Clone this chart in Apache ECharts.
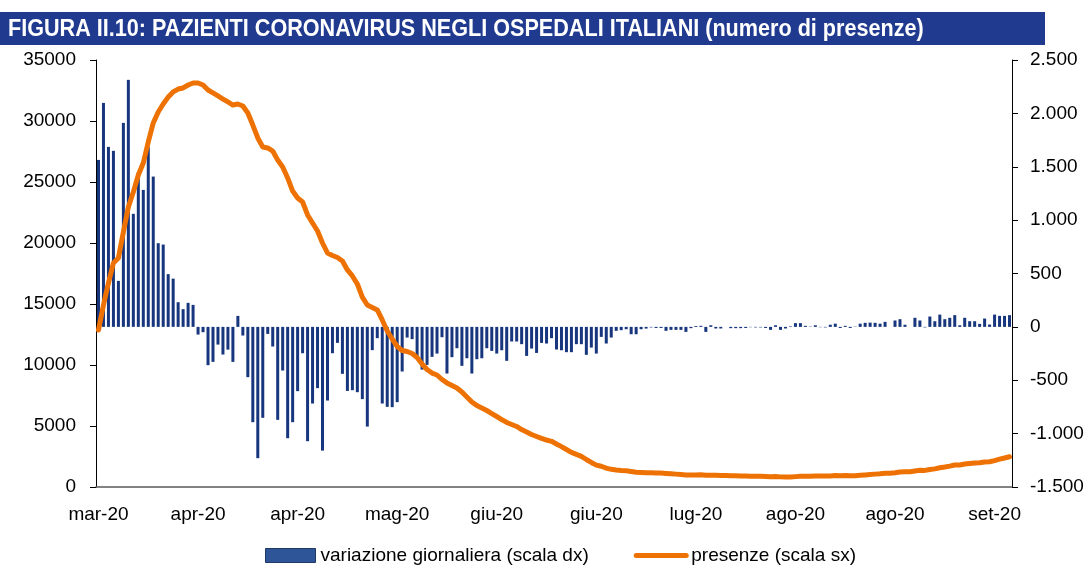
<!DOCTYPE html>
<html><head><meta charset="utf-8">
<script src="https://cdn.jsdelivr.net/npm/echarts@6/dist/echarts.min.js"></script>
<style>html,body{margin:0;padding:0;background:#fff}#c{width:1092px;height:565px}</style>
</head><body><div id="c"></div>
<script>
const titleText = 'FIGURA II.10: PAZIENTI CORONAVIRUS NEGLI OSPEDALI ITALIANI (numero di presenze)';
const startDate = [2020, 2, 17];
const dayCount = 184;
const tickLabels = ['mar-20','apr-20','apr-20','mag-20','giu-20','giu-20','lug-20','ago-20','ago-20','set-20'];
const barName = 'variazione giornaliera (scala dx)';
const lineName = 'presenze (scala sx)';

// daily variation (right axis)
const variazione = [
 1564,2098,1686,1649,431,1911,2314,1059,1452,1283,
 1686,1408,784,771,494,452,231,166,225,206,
 -72,-50,-359,-328,-166,-259,-213,-328,103,-81,
 -471,-893,-1230,-852,-66,-184,-871,-409,-1043,-893,
 -602,-247,-1071,-718,-574,-1159,-690,-247,-150,-440,
 -600,-593,-612,-677,-934,-218,-106,-718,-749,-752,
 -705,-418,-100,-115,-300,-400,-356,-281,-250,-97,
 -437,-284,-200,-365,-294,-437,-303,-294,-200,-225,
 -250,-219,-318,-137,-137,-162,-272,-203,-244,-150,
 -156,-106,-212,-219,-237,-237,-162,-162,-262,-194,
 -250,-94,-156,-100,-37,-31,-22,-69,-69,-22,
 -16,-5,-10,-10,-37,-28,-28,-28,-47,-12,
 8,10,-47,15,-15,-15,0,-12,-12,-12,
 -10,-3,-5,-5,-10,-28,15,-28,-15,5,
 35,35,10,3,15,-3,-5,20,30,-10,
 10,-10,3,30,38,40,38,30,47,0,
 60,72,20,0,85,60,-5,97,53,115,
 72,85,110,15,85,53,53,28,78,22,
 115,103,103,110
];

// hospital presences (left axis)
const presenze = [
 12870,14920,16720,18360,18770,20900,22950,24180,25570,26560,
 28280,29840,30740,31390,31960,32380,32620,32710,32950,33120,
 33120,32950,32540,32300,32050,31800,31560,31310,31390,31230,
 30660,29670,28610,27870,27790,27540,26800,26230,25330,24260,
 23690,23360,22300,21640,20980,20000,19180,18980,18810,18525,
 17790,17300,16640,15570,14920,14710,14510,13690,12790,12130,
 11520,11190,11110,10940,10610,10080,9630,9340,9180,8810,
 8530,8320,8120,7790,7380,6970,6680,6480,6270,6020,
 5780,5530,5290,5120,4960,4710,4510,4300,4140,3980,
 3850,3745,3530,3310,3075,2840,2680,2515,2255,2010,
 1790,1700,1550,1450,1400,1360,1330,1270,1210,1190,
 1170,1160,1150,1140,1110,1080,1055,1030,990,980,
 990,1000,955,970,955,940,940,930,915,905,
 895,890,885,880,870,845,860,830,815,820,
 850,880,890,890,900,900,895,910,935,925,
 935,925,930,955,985,1020,1055,1080,1120,1120,
 1170,1230,1245,1245,1315,1365,1360,1440,1485,1580,
 1640,1710,1800,1810,1880,1920,1965,1990,2050,2070,
 2165,2280,2380,2480
];

const categories = [];
for (let i = 0; i < dayCount; i++) {
  const d = new Date(Date.UTC(startDate[0], startDate[1], startDate[2] + i));
  categories.push(d.toISOString().slice(0, 10));
}

const FONT = 'Liberation Sans';
const every20 = (i) => i % 20 === 0;
const fmtIt = (v) => {
  const s = Math.abs(v).toString().replace(/\B(?=(\d{3})+(?!\d))/g, '.');
  return (v < 0 ? '-' : '') + s;
};

const chart = echarts.init(document.getElementById('c'), null, {renderer: 'canvas'});
chart.setOption({
  animation: false,
  backgroundColor: '#ffffff',
  textStyle: {fontFamily: FONT},
  graphic: [
    {type: 'rect', shape: {x: 0, y: 12, width: 1045, height: 33}, style: {fill: '#203A8F'}, silent: true},
    {type: 'text', x: 8, y: 29, scaleX: 0.9, style: {text: titleText, fill: '#ffffff', fontSize: 24, fontWeight: 'bold',
      fontFamily: FONT, verticalAlign: 'middle'}, silent: true}
  ],
  grid: {left: 96, right: 80, top: 60, bottom: 78},
  legend: {
    left: 260, top: 541, itemWidth: 50, itemHeight: 14, itemGap: 45,
    textStyle: {fontSize: 19, color: '#000', fontFamily: FONT},
    data: [
      {name: barName, icon: 'rect', itemStyle: {color: '#2E5597', borderColor: '#1F3864', borderWidth: 1}},
      {name: lineName, lineStyle: {width: 5, color: '#EE7203'}, itemStyle: {color: 'rgba(0,0,0,0)', borderWidth: 0, opacity: 0}}
    ]
  },
  xAxis: {
    type: 'category', data: categories, boundaryGap: true,
    axisLine: {onZero: false, lineStyle: {color: '#595959', width: 1.5}},
    axisTick: {interval: every20, length: 6, lineStyle: {color: '#595959'}},
    axisLabel: {interval: every20, formatter: (v, i) => tickLabels[Math.round(i / 20)], fontSize: 19, color: '#000', margin: 18, fontFamily: FONT},
    splitLine: {show: false}
  },
  yAxis: [
    {type: 'value', position: 'left', min: 0, max: 35000, interval: 5000,
     axisLine: {show: true, lineStyle: {color: '#000', width: 1}},
     axisTick: {show: true, length: 6, lineStyle: {color: '#000'}},
     axisLabel: {fontSize: 19, color: '#000', margin: 20, formatter: (v) => String(v), fontFamily: FONT},
     splitLine: {show: false}},
    {type: 'value', position: 'right', min: -1500, max: 2500, interval: 500,
     axisLine: {show: true, lineStyle: {color: '#000', width: 1}},
     axisTick: {show: true, length: 6, lineStyle: {color: '#000'}},
     axisLabel: {fontSize: 19, color: '#000', margin: 18, formatter: fmtIt, fontFamily: FONT},
     splitLine: {show: false}}
  ],
  series: [
    {name: barName, type: 'bar', yAxisIndex: 1, data: variazione, barWidth: 3,
     itemStyle: {color: '#17367D'}, z: 2},
    {name: lineName, type: 'line', yAxisIndex: 0, data: presenze, symbol: 'none', showSymbol: false,
     lineStyle: {color: '#EE7203', width: 5, join: 'round', cap: 'round'}, itemStyle: {color: '#EE7203'}, z: 3}
  ]
});
</script></body></html>
